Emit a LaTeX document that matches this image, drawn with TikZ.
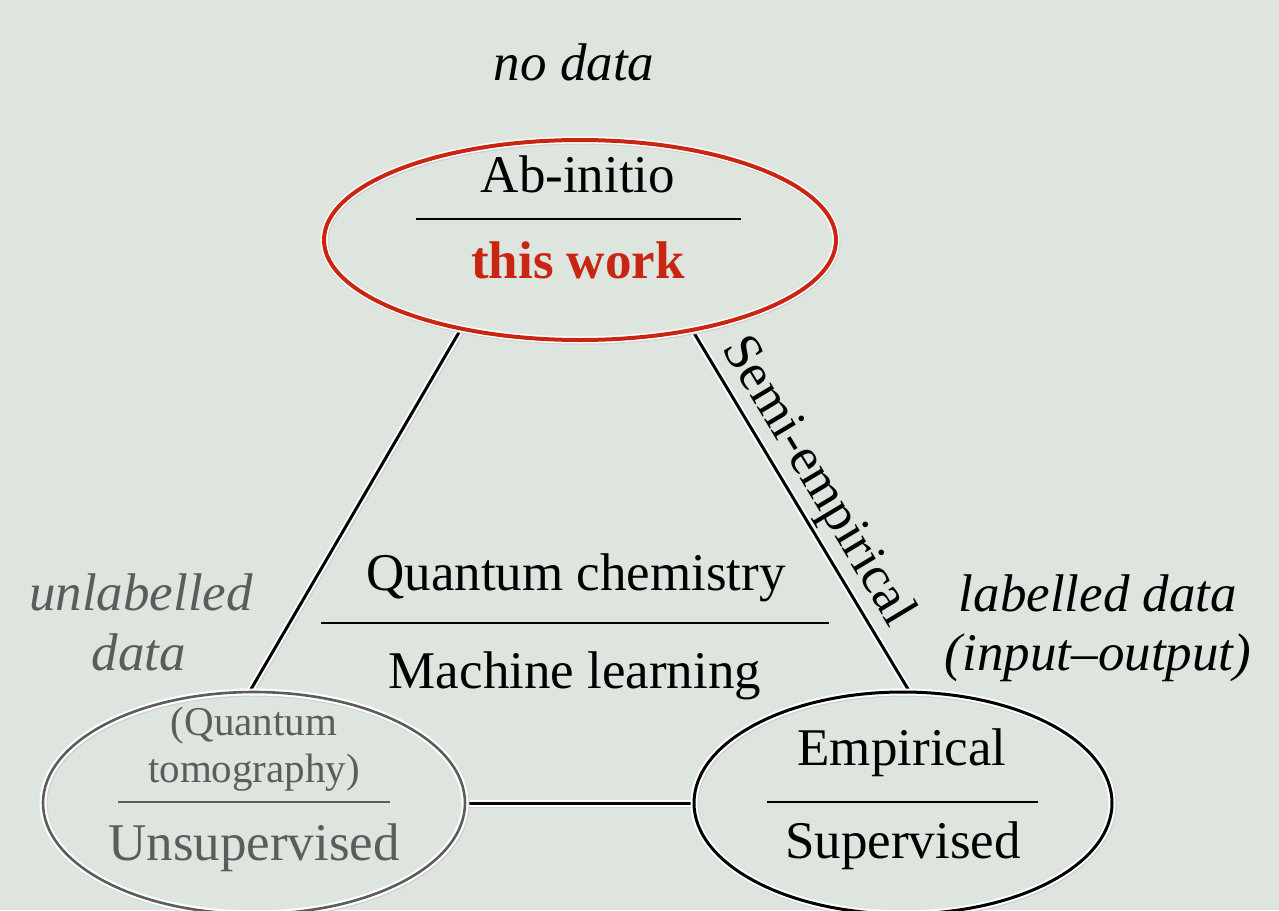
\documentclass[tikz,border=0pt]{standalone}
\usepackage{fontspec}
\setmainfont{Liberation Serif}
\usetikzlibrary{shapes.geometric,positioning}

\definecolor{bgcol}{RGB}{222,229,223}
\definecolor{workred}{RGB}{200,38,18}
\definecolor{fadegray}{RGB}{92,92,92}

\pgfdeclarelayer{back}
\pgfdeclarelayer{links}
\pgfsetlayers{back,links,main}

\tikzset{
  halo/.style={preaction={draw=black!18,line width=#1,transform canvas={shift={(0.5pt,-0.6pt)}}},
               preaction={draw=white,line width=#1}},
  ring/.style={ellipse,inner sep=0pt,halo=3.5pt},
  link/.style={line width=1.5pt,halo=3.5pt},
  lbl/.style={font=\fontsize{26.5}{30}\selectfont,inner sep=0pt,anchor=base},
  sml/.style={font=\fontsize{20.5}{24}\selectfont,inner sep=0pt,anchor=base},
  rule/.style={line width=1.3pt}
}

\begin{document}
\begin{tikzpicture}[x=0.5pt,y=-0.5pt]
\useasboundingbox (0,0) rectangle (1279,910);
\begin{pgfonlayer}{back}
  \fill[bgcol] (0,0) rectangle (1279,910);
\end{pgfonlayer}

% the three corners
\node[ring,draw=workred,line width=2pt,minimum width=256pt,minimum height=100pt] (abinitio) at (580,240) {};
\node[ring,draw=fadegray,line width=1.3pt,minimum width=211pt,minimum height=111pt] (unsup) at (254,803) {};
\node[ring,draw=black,line width=1.5pt,minimum width=209pt,minimum height=111pt] (sup) at (903,803) {};

% texts inside
\node[lbl] (abtitle) at (578,192) {Ab-initio};
\draw[rule] (416,219) -- (741,219);
\node[lbl,text=workred,font=\fontsize{26.5}{30}\selectfont\bfseries] (thiswork) at (578,278) {this work};

\node[sml,text=fadegray] (tomo1) at (254,735) {(Quantum};
\node[sml,text=fadegray] (tomo2) at (254,782) {tomography)};
\draw[rule,fadegray] (118,802) -- (390,802);
\node[lbl,text=fadegray] (unsuptitle) at (254,860) {Unsupervised};

\node[lbl] (emp) at (902,765) {Empirical};
\draw[rule] (767,802) -- (1038,802);
\node[lbl] (suptitle) at (903,858) {Supervised};

% middle
\node[lbl] (qchem) at (576,590) {Quantum chemistry};
\draw[rule] (321,623) -- (829,623);
\node[lbl] (mlearn) at (575,688) {Machine learning};

% data labels
\node[lbl,font=\fontsize{26.5}{30}\selectfont\itshape] (nodata) at (574,80) {no data};
\node[lbl,font=\fontsize{26.5}{30}\selectfont\itshape,text=fadegray] (unlab1) at (141,610) {unlabelled};
\node[lbl,font=\fontsize{26.5}{30}\selectfont\itshape,text=fadegray] (unlab2) at (139,670) {data};
\node[lbl,font=\fontsize{26.5}{30}\selectfont\itshape] (lab1) at (1098,611) {labelled data};
\node[lbl,font=\fontsize{26.5}{30}\selectfont\itshape] (lab2) at (1098,670) {(input--output)};

% edges of the triangle
\begin{pgfonlayer}{links}
\draw[link] (abinitio.217) -- (unsup.92);
\draw[link] (abinitio.321.5) -- node[pos=0.46,sloped,above,font=\fontsize{26.5}{30}\selectfont,inner sep=1.5pt] (semi) {Semi-empirical} (sup.87);
\draw[link] (unsup.east) -- (sup.west);
\end{pgfonlayer}
\end{tikzpicture}
\end{document}
